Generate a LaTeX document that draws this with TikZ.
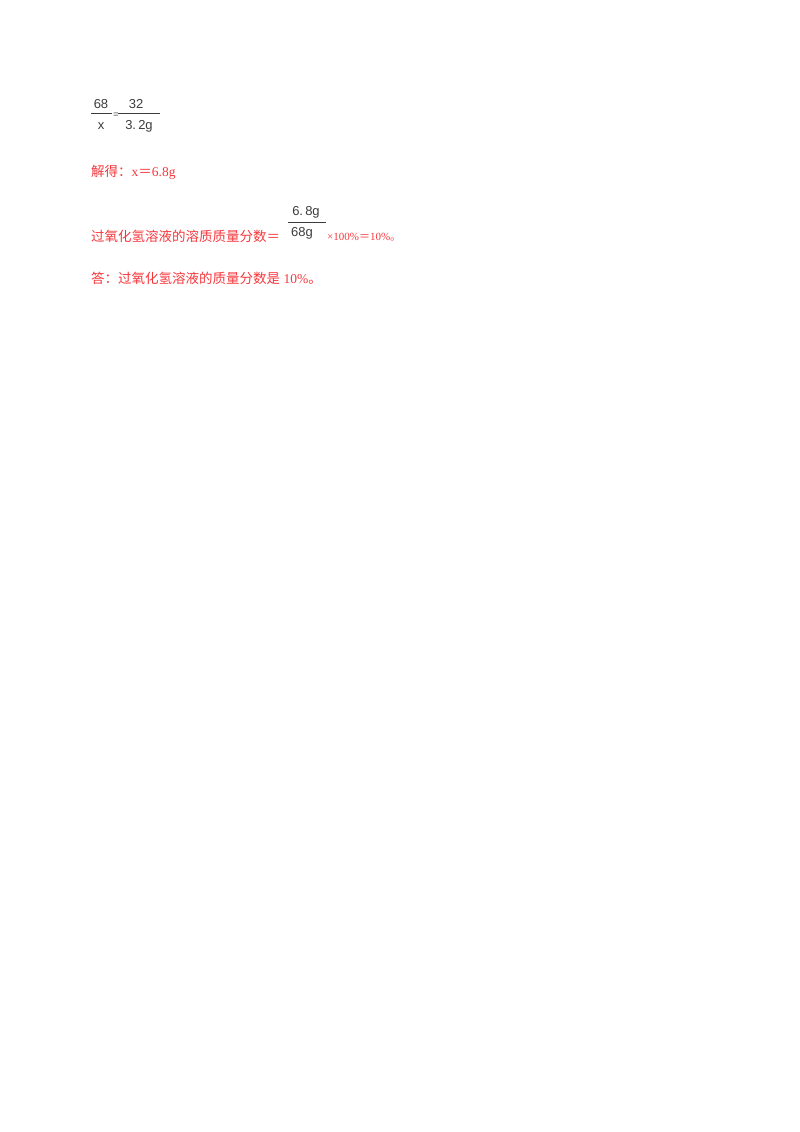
\documentclass[tikz,border=0pt]{standalone}
\usepackage{fontspec}
\setmainfont{Liberation Serif}
\newfontfamily\cjk{Noto Sans CJK SC}
\newfontfamily\fr{Liberation Sans}
\definecolor{ansred}{RGB}{245,55,60}
\definecolor{frgray}{RGB}{60,60,60}
\tikzset{
  red/.style={text=ansred,anchor=west,inner sep=0pt,font=\fontsize{13.5}{14}\selectfont},
  frac/.style={text=frgray,inner sep=0pt,font=\fr\fontsize{13}{14}\selectfont},
  bar/.style={draw=frgray,line width=0.9pt}
}
\begin{document}
\begin{tikzpicture}[x=1pt,y=-1pt]
\useasboundingbox (0,0) rectangle (800,1132);
% first fraction equation
\node[frac] (n1) at (101,104) {68};
\node[frac] (d1) at (101,126) {x};
\draw[bar] (91,113) -- (112,113);
\node[frac,font=\fr\fontsize{9}{9}\selectfont] (eq1) at (116,115) {=};
\node[frac] (n2) at (136,104) {32};
\node[frac] (d2) at (139,126) {3.\,2g};
\draw[bar] (118,113) -- (160,113);
% solution
\node[red] (sol) at (91,172) {{\cjk 解得：}x{\cjk ＝}6.8g};
% mass fraction
\node[red] (mf) at (91,236) {\cjk 过氧化氢溶液的溶质质量分数＝};
\node[frac] (n3) at (306,212) {6.\,8g};
\node[frac] (d3) at (302,233) {68g};
\draw[bar] (288,222) -- (326,222);
\node[red] (mf2) at (327,237) {\fontsize{11}{12}\selectfont ×100\%{\cjk ＝}10\%{\cjk 。}};
% answer
\node[red] (ans) at (91,278) {{\cjk 答：过氧化氢溶液的质量分数是} 10\%{\cjk 。}};
\end{tikzpicture}
\end{document}
